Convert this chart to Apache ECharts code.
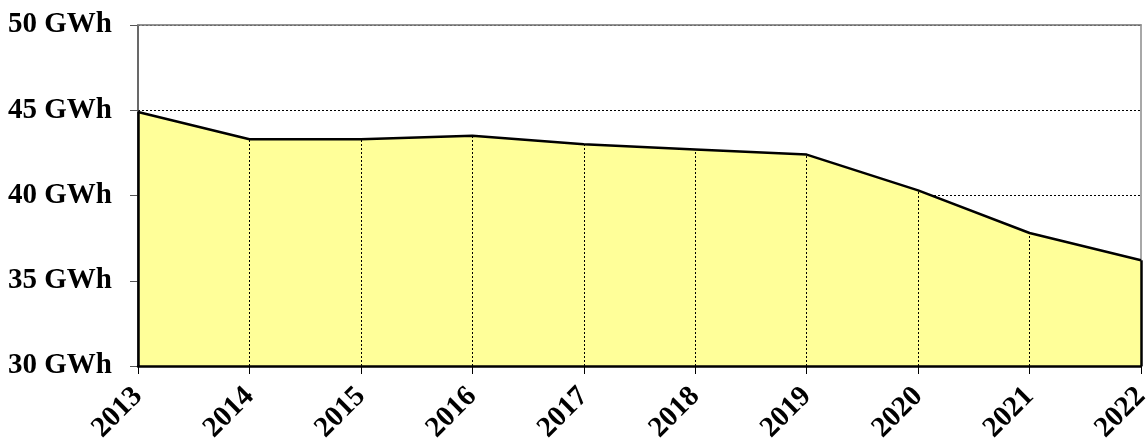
<!DOCTYPE html>
<html>
<head>
<meta charset="utf-8">
<script src="https://cdn.jsdelivr.net/npm/echarts@6/dist/echarts.min.js"></script>
<style>
  html, body { margin: 0; padding: 0; background: #fff; }
  #chart { width: 1147px; height: 442px; }
</style>
</head>
<body>
<div id="chart"></div>
<script>
var years = ['2013', '2014', '2015', '2016', '2017', '2018', '2019', '2020', '2021', '2022'];
var energy = [44.9, 43.3, 43.3, 43.5, 43.0, 42.7, 42.4, 40.3, 37.8, 36.2];
var yTicks = [30, 35, 40, 45, 50];

var chart = echarts.init(document.getElementById('chart'));
var labelFont = {
  fontFamily: 'Liberation Serif, Times New Roman, serif',
  fontWeight: 'bold',
  fontSize: 29,
  color: '#000'
};

var last = years.length - 1;
var base = yTicks[0];

// drop lines from the axis up to each point (dotted), plus the solid outline at both ends
var dropLines = [];
for (var i = 0; i < years.length; i++) {
  var solid = (i === 0 || i === last);
  dropLines.push([
    { coord: [i, base], lineStyle: solid ? { color: '#000', width: 2.5, type: 'solid' } : { color: '#000', width: 1, type: [2, 2] } },
    { coord: [i, energy[i]] }
  ]);
}

var option = {
  animation: false,
  grid: {
    left: 138,
    right: 6,
    top: 25,
    bottom: 76,
    outerBoundsMode: 'none',
    containLabel: false,
    show: true,
    borderColor: '#8c8c8c',
    borderWidth: 1.5
  },
  xAxis: [{
    type: 'category',
    data: years,
    boundaryGap: false,
    z: 3,
    axisLine: { lineStyle: { color: '#000', width: 2.5 } },
    axisTick: { show: true, length: 8, lineStyle: { color: '#000', width: 1 } },
    splitLine: { show: false },
    axisLabel: Object.assign({ rotate: 45, margin: 26, interval: 0, hideOverlap: false }, labelFont)
  }, {
    type: 'category',
    data: years,
    position: 'top',
    boundaryGap: false,
    z: 4,
    axisLine: { lineStyle: { color: '#8c8c8c', width: 1.5 } },
    axisTick: { show: false },
    axisLabel: { show: false },
    splitLine: { show: false }
  }],
  yAxis: {
    type: 'value',
    min: yTicks[0],
    max: yTicks[yTicks.length - 1],
    interval: 5,
    z: 0,
    axisLine: { show: true, lineStyle: { color: '#555', width: 1.5 } },
    axisTick: { show: true, length: 8, lineStyle: { color: '#555', width: 1 } },
    splitLine: { show: true, lineStyle: { color: '#000', width: 1, type: [2, 2] } },
    axisLabel: Object.assign({ margin: 26, formatter: '{value} GWh' }, labelFont)
  },
  series: [{
    type: 'line',
    data: energy,
    symbol: 'none',
    z: 2,
    lineStyle: { color: '#000', width: 2.5 },
    areaStyle: { color: '#ffff99', opacity: 1, origin: 'start' },
    markLine: {
      silent: true,
      symbol: 'none',
      label: { show: false },
      data: dropLines
    }
  }]
};

chart.setOption(option);
window.onresize = chart.resize;
</script>
</body>
</html>
